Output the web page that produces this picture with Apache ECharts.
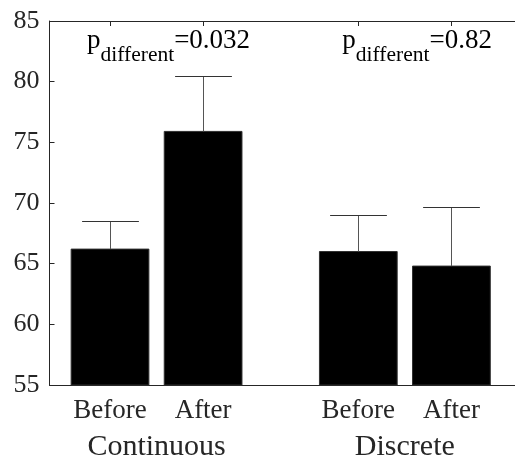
<!DOCTYPE html>
<html>
<head>
<meta charset="utf-8">
<script src="https://cdn.jsdelivr.net/npm/echarts@6/dist/echarts.min.js"></script>
<style>html,body{margin:0;padding:0;background:#fff;}#c{width:515px;height:462px;}</style>
</head>
<body>
<div id="c"></div>
<script>
// Data
const barPositions = [1, 2, 3.667, 4.667];
const barLabels = ['Before', 'After', 'Before', 'After'];
const barValues = [66.2, 75.9, 66.0, 64.8];
const errorTops = [68.5, 80.45, 69.0, 69.65];
const groupPositions = [1.5, 4.1667];
const groupLabels = ['Continuous', 'Discrete'];
const pPositions = [0.753, 3.495];
const pValues = ['=0.032', '=0.82'];
const pTopY = 84.5;
const yTicks = [55, 60, 65, 70, 75, 80, 85];

const FONT = 'Liberation Serif';
const AX = '#262626';
const chart = echarts.init(document.getElementById('c'), null, {renderer: 'canvas'});

const mctx = document.createElement('canvas').getContext('2d');
function tw(text, size) { mctx.font = size + 'px "' + FONT + '"'; return mctx.measureText(text).width; }

const BAR_W = 0.835, CAP_W = 0.61;
const MAIN_FS = 27, SUB_FS = 21.5, SUB_DY = 17;

const option = {
  animation: false,
  textStyle: {fontFamily: FONT},
  grid: {left: 49.5, right: 0, top: 21, bottom: 77, containLabel: false},
  xAxis: [
    {type: 'value', min: 0.35, max: 5.35, position: 'bottom',
     axisLine: {show: true, onZero: false, lineStyle: {color: AX, width: 1}},
     axisTick: {show: true, inside: true, length: 5, customValues: barPositions, lineStyle: {color: AX}},
     axisLabel: {show: true, customValues: barPositions, margin: 12,
       formatter: function (v) { const i = barPositions.indexOf(v); return i >= 0 ? barLabels[i] : ''; },
       color: AX, fontFamily: FONT, fontSize: 27},
     splitLine: {show: false}},
    {type: 'value', min: 0.35, max: 5.35, position: 'bottom', gridIndex: 0,
     axisLine: {show: false}, axisTick: {show: false}, splitLine: {show: false},
     axisLabel: {show: true, customValues: groupPositions, margin: 47,
       formatter: function (v) { const i = groupPositions.indexOf(v); return i >= 0 ? groupLabels[i] : ''; },
       color: AX, fontFamily: FONT, fontSize: 30}},
    {type: 'value', min: 0.35, max: 5.35, position: 'top', gridIndex: 0,
     axisLine: {show: true, onZero: false, lineStyle: {color: AX, width: 1}},
     axisTick: {show: true, inside: true, length: 5, customValues: barPositions, lineStyle: {color: AX}},
     axisLabel: {show: false}, splitLine: {show: false}}
  ],
  yAxis: [{type: 'value', min: 55, max: 85, interval: 5,
    axisLine: {show: true, onZero: false, lineStyle: {color: AX, width: 1}},
    axisTick: {show: true, inside: true, length: 5, lineStyle: {color: AX}},
    axisLabel: {color: AX, fontFamily: FONT, fontSize: 26, margin: 10},
    splitLine: {show: false}}],
  series: [
    {type: 'custom', xAxisIndex: 0, yAxisIndex: 0,
     data: barPositions.map((x, i) => [x, barValues[i]]),
     renderItem: function (params, api) {
       const top = api.coord([api.value(0), api.value(1)]);
       const base = api.coord([api.value(0), 55]);
       const w = api.size([BAR_W, 0])[0];
       return {type: 'rect', shape: {x: top[0] - w / 2, y: top[1], width: w, height: base[1] - top[1]},
         style: {fill: '#000', stroke: '#303030', lineWidth: 1}};
     }},
    {type: 'custom', xAxisIndex: 0, yAxisIndex: 0,
     data: barPositions.map((x, i) => [x, barValues[i], errorTops[i]]),
     renderItem: function (params, api) {
       const a = api.coord([api.value(0), api.value(1)]);
       const b = api.coord([api.value(0), api.value(2)]);
       const cw = api.size([CAP_W, 0])[0];
       const cx = Math.round(a[0]) + 0.5;
       const cy = Math.round(b[1]) + 0.5;
       return {type: 'group', children: [
         {type: 'line', shape: {x1: cx, y1: a[1], x2: cx, y2: cy}, style: {stroke: '#555', lineWidth: 1}},
         {type: 'line', shape: {x1: cx - cw / 2, y1: cy, x2: cx + cw / 2, y2: cy}, style: {stroke: '#333', lineWidth: 1}}
       ]};
     }},
    {type: 'custom', xAxisIndex: 0, yAxisIndex: 0,
     data: pPositions.map((x, i) => [x, pTopY, i]),
     renderItem: function (params, api) {
       const p = api.coord([api.value(0), api.value(1)]);
       const i = api.value(2);
       const w1 = tw('p', MAIN_FS), w2 = tw('different', SUB_FS);
       const common = {fill: '#000', fontFamily: FONT, align: 'left', verticalAlign: 'top'};
       return {type: 'group', children: [
         {type: 'text', x: p[0], y: p[1], style: Object.assign({text: 'p', fontSize: MAIN_FS}, common)},
         {type: 'text', x: p[0] + w1, y: p[1] + SUB_DY, style: Object.assign({text: 'different', fontSize: SUB_FS}, common)},
         {type: 'text', x: p[0] + w1 + w2, y: p[1], style: Object.assign({text: pValues[i], fontSize: MAIN_FS}, common)}
       ]};
     }}
  ]
};
chart.setOption(option);
</script>
</body>
</html>
